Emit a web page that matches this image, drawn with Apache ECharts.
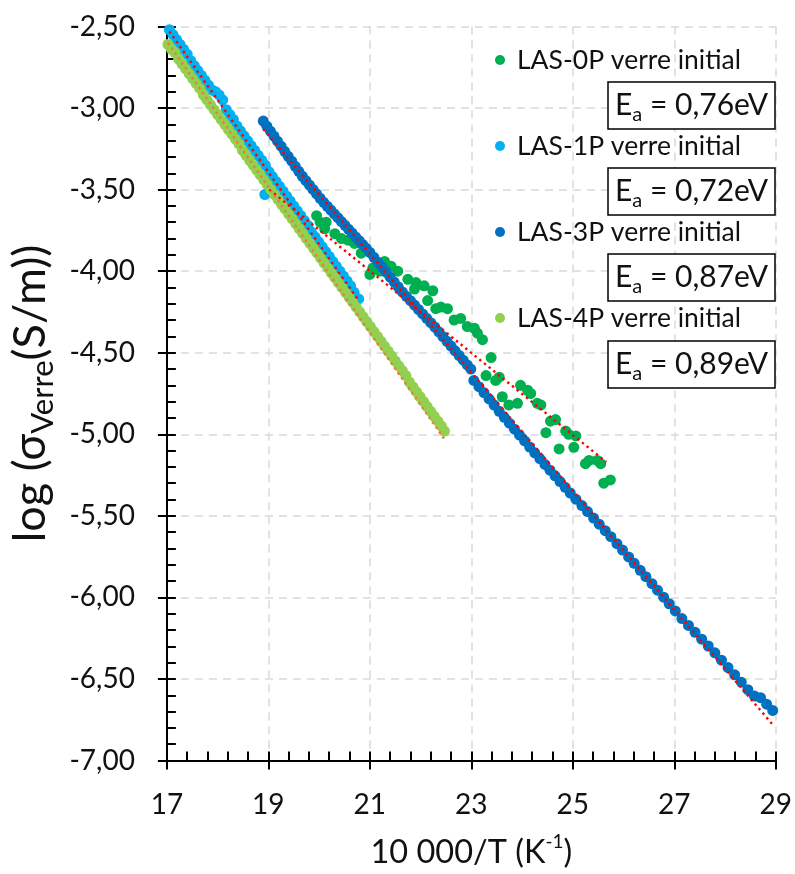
<!DOCTYPE html>
<html><head><meta charset="utf-8">
<script src="https://cdn.jsdelivr.net/npm/echarts@6/dist/echarts.min.js"></script>
<style>html,body{margin:0;padding:0;background:#fff}#c{width:795px;height:874px}</style>
</head><body><div id="c"></div>
<script>
// ---------- DATA ----------
const seriesNames = ['LAS-0P verre initial','LAS-1P verre initial','LAS-3P verre initial','LAS-4P verre initial'];
const activationEnergies = ['0,76','0,72','0,87','0,89'];

const las0pX = [19.02,19.09,19.16,19.23,19.30,19.37,19.44,19.51,19.58,19.65,19.72,19.79,19.86,
  19.95,20.02,20.11,20.14,20.31,20.44,20.57,20.70,20.83,21.00,21.06,21.19,21.29,21.42,21.55,21.75,21.88,21.91,
  22.07,22.14,22.24,22.30,22.40,22.53,22.66,22.79,22.92,23.06,23.12,23.22,23.29,23.39,23.48,23.55,23.61,23.74,
  23.91,23.97,24.11,24.17,24.30,24.37,24.47,24.56,24.66,24.73,24.86,24.92,25.02,25.06,25.25,25.32,25.48,25.55,25.61,25.74];
const las0pY = [-3.46,-3.49,-3.52,-3.54,-3.57,-3.60,-3.63,-3.66,-3.68,-3.71,-3.74,-3.77,-3.80,
  -3.66,-3.70,-3.74,-3.70,-3.77,-3.80,-3.81,-3.83,-3.89,-4.02,-3.98,-4.00,-3.94,-3.97,-4.00,-4.05,-4.11,-4.07,
  -4.09,-4.18,-4.12,-4.23,-4.22,-4.23,-4.30,-4.29,-4.34,-4.35,-4.38,-4.42,-4.64,-4.53,-4.67,-4.65,-4.77,-4.82,
  -4.81,-4.70,-4.73,-4.75,-4.81,-4.82,-4.99,-4.92,-4.91,-5.09,-4.98,-5.00,-5.08,-5.01,-5.18,-5.16,-5.16,-5.18,-5.30,-5.28];

const las1pX = [17.05,17.12,17.19,17.26,17.33,17.40,17.47,17.54,17.61,17.68,17.75,17.82,17.89,17.96,18.03,18.10,
  18.17,18.24,18.31,18.38,18.45,18.52,18.59,18.66,18.73,18.80,18.87,18.93,18.94,19.01,19.08,19.15,19.22,19.29,19.36,
  19.43,19.50,19.57,19.64,19.71,19.78,19.85,19.92,19.99,20.06,20.13,20.20,20.27,20.34,20.41,20.48,20.55,20.62,20.69,20.78];
const las1pY = [-2.52,-2.55,-2.58,-2.61,-2.64,-2.67,-2.71,-2.74,-2.77,-2.80,-2.83,-2.86,-2.89,-2.90,-2.92,-2.95,
  -3.01,-3.04,-3.07,-3.11,-3.14,-3.17,-3.20,-3.23,-3.26,-3.29,-3.32,-3.53,-3.35,-3.39,-3.42,-3.45,-3.48,-3.51,-3.54,
  -3.57,-3.60,-3.63,-3.66,-3.69,-3.72,-3.76,-3.79,-3.82,-3.85,-3.88,-3.91,-3.94,-3.97,-4.00,-4.03,-4.06,-4.09,-4.13,-4.17];

const las3pX = [18.90,18.97,19.04,19.11,19.18,19.25,19.32,19.39,19.46,19.53,19.60,19.67,19.74,19.81,19.88,19.95,20.02,
  20.09,20.16,20.23,20.30,20.37,20.44,20.51,20.58,20.65,20.72,20.79,20.86,20.93,
  21.00,21.08,21.16,21.24,21.32,21.40,21.48,21.56,21.64,21.72,21.80,21.88,21.96,22.04,22.12,22.20,22.28,22.36,22.44,
  22.52,22.60,22.68,22.76,22.84,22.92,22.99,
  23.05,23.15,23.25,23.35,23.45,23.55,23.65,23.75,23.85,23.95,24.05,24.15,24.25,24.35,24.45,24.55,24.65,24.75,24.85,24.95,
  25.06,25.18,25.29,25.41,25.52,25.64,25.75,25.87,25.98,26.10,26.21,26.33,26.44,26.56,26.67,26.79,26.90,
  27.02,27.15,27.28,27.41,27.54,27.67,27.80,27.93,28.06,28.19,28.32,28.45,28.58,28.70,28.82,28.94];
const las3pY = [-3.080,-3.111,-3.142,-3.172,-3.203,-3.234,-3.265,-3.296,-3.326,-3.357,-3.388,-3.418,-3.445,-3.472,-3.499,-3.526,-3.553,
  -3.578,-3.602,-3.625,-3.649,-3.672,-3.696,-3.719,-3.743,-3.766,-3.790,-3.813,-3.837,-3.860,
  -3.885,-3.915,-3.946,-3.976,-4.006,-4.037,-4.067,-4.097,-4.127,-4.154,-4.181,-4.208,-4.235,-4.262,-4.289,-4.316,-4.343,-4.372,-4.401,
  -4.430,-4.459,-4.488,-4.517,-4.546,-4.575,-4.600,
  -4.670,-4.708,-4.745,-4.783,-4.821,-4.859,-4.896,-4.932,-4.969,-5.005,-5.041,-5.078,-5.114,-5.149,-5.185,-5.220,-5.255,-5.290,-5.325,-5.360,
  -5.398,-5.437,-5.474,-5.514,-5.551,-5.591,-5.628,-5.671,-5.710,-5.752,-5.791,-5.834,-5.873,-5.916,-5.956,-5.999,-6.039,
  -6.083,-6.130,-6.172,-6.214,-6.256,-6.298,-6.340,-6.385,-6.430,-6.475,-6.520,-6.566,-6.605,-6.615,-6.655,-6.693];

const las4pX = [17.02,17.09,17.16,17.23,17.30,17.37,17.44,17.51,17.58,17.65,17.72,17.79,17.86,17.93,18.00,18.07,18.14,18.21,
  18.28,18.35,18.42,18.49,18.56,18.63,18.70,18.77,18.84,18.91,18.98,19.05,19.12,19.19,19.26,19.33,19.40,19.47,19.54,19.61,
  19.68,19.75,19.82,19.89,19.96,20.03,20.10,20.17,20.24,20.31,20.38,20.45,20.52,20.59,20.66,20.73,20.80,20.87,20.94,21.01,
  21.08,21.15,21.22,21.29,21.36,21.43,21.50,21.57,21.64,21.71,21.78,21.85,21.92,21.99,22.06,22.13,22.20,22.27,22.34,22.41,22.47];
const las4pY = [-2.61,-2.64,-2.66,-2.70,-2.73,-2.76,-2.79,-2.82,-2.85,-2.88,-2.92,-2.95,-2.98,-3.01,-3.04,-3.07,-3.10,-3.13,
  -3.16,-3.19,-3.22,-3.26,-3.29,-3.32,-3.35,-3.38,-3.41,-3.44,-3.47,-3.50,-3.53,-3.56,-3.59,-3.62,-3.65,-3.68,-3.71,-3.74,
  -3.77,-3.80,-3.83,-3.86,-3.89,-3.92,-3.95,-3.98,-4.01,-4.04,-4.07,-4.10,-4.13,-4.16,-4.19,-4.22,-4.25,-4.28,-4.31,-4.34,
  -4.37,-4.40,-4.43,-4.46,-4.49,-4.52,-4.55,-4.58,-4.61,-4.64,-4.68,-4.71,-4.74,-4.77,-4.80,-4.83,-4.86,-4.89,-4.92,-4.95,-4.98];

// linear trend lines (start / end values)
const trendXStart = [19.02, 17.05, 18.90, 17.02];
const trendXEnd   = [25.66, 20.78, 28.94, 22.47];
const trendYStart = [-3.50, -2.53, -3.13, -2.60];
const trendYEnd   = [-5.17, -4.18, -6.78, -5.03];

const xTickValues = [17, 19, 21, 23, 25, 27, 29];
const yTickValues = [-7.0, -6.5, -6.0, -5.5, -5.0, -4.5, -4.0, -3.5, -3.0, -2.5];

// ---------- STYLE ----------
const FONT = 'Lato';
const colors = ['#00B050', '#00B0F0', '#0070C0', '#92D050'];
const trendColors = ['#FF0000', '#FF0000', '#FF0000', '#F07A3A'];

const xs = [las0pX, las1pX, las3pX, las4pX];
const ys = [las0pY, las1pY, las3pY, las4pY];

const series = [];
seriesNames.forEach((n, i) => {
  series.push({
    name: n, type: 'scatter', xAxisIndex: 0, yAxisIndex: 0,
    data: xs[i].map((x, k) => [x, ys[i][k]]),
    symbol: 'circle', symbolSize: 11,
    itemStyle: { color: colors[i], opacity: 1 },
    z: 2, silent: true
  });
});
seriesNames.forEach((n, i) => {
  series.push({
    name: n + ' (tendance)', type: 'line', xAxisIndex: 0, yAxisIndex: 0,
    data: [[trendXStart[i], trendYStart[i]], [trendXEnd[i], trendYEnd[i]]],
    showSymbol: false, symbol: 'none',
    lineStyle: { color: trendColors[i], width: 2.4, type: [2.4, 3.6] },
    z: 4, silent: true
  });
});

const fmtY = v => v.toFixed(2).replace('.', ',');
const axisBlack = '#000';

const grid = { left: 165, right: 19, top: 26.5, bottom: 113 };

const xAxisMain = {
  type: 'value', min: xTickValues[0], max: xTickValues[xTickValues.length - 1], interval: 2,
  position: 'bottom',
  axisLine: { show: true, onZero: false, lineStyle: { color: axisBlack, width: 2 } },
  axisTick: { show: true, inside: false, length: 9, lineStyle: { color: axisBlack, width: 2 } },
  minorTick: { show: false },
  axisLabel: { show: true, margin: 30, color: '#111', fontFamily: FONT, fontSize: 28,
    formatter: v => String(v) },
  splitLine: { show: true, lineStyle: { color: '#D9D9D9', width: 1.5, type: [8, 6] } },
  name: '{t|10 000/T (K}{s|-1}{t|)}',
  nameLocation: 'middle', nameGap: 72,
  nameTextStyle: { rich: {
    t: { fontFamily: FONT, fontSize: 32.5, color: '#111', lineHeight: 40, verticalAlign: 'middle' },
    s: { fontFamily: FONT, fontSize: 19, color: '#111', lineHeight: 30, verticalAlign: 'top' }
  } }
};
const xAxisInner = {
  type: 'value', min: xTickValues[0], max: xTickValues[xTickValues.length - 1], interval: 2,
  position: 'bottom',
  axisLine: { show: false, onZero: false },
  axisTick: { show: true, inside: true, length: 9, lineStyle: { color: axisBlack, width: 2 } },
  minorTick: { show: true, splitNumber: 5, length: 9, lineStyle: { color: axisBlack, width: 2 } },
  axisLabel: { show: false }, splitLine: { show: false }
};
const yAxisMain = {
  type: 'value', min: yTickValues[0], max: yTickValues[yTickValues.length - 1], interval: 0.5,
  position: 'left',
  axisLine: { show: true, onZero: false, lineStyle: { color: axisBlack, width: 2 } },
  axisTick: { show: true, inside: false, length: 9, lineStyle: { color: axisBlack, width: 2 } },
  minorTick: { show: false },
  axisLabel: { show: true, margin: 32, color: '#111', fontFamily: FONT, fontSize: 28, formatter: fmtY },
  splitLine: { show: true, lineStyle: { color: '#D9D9D9', width: 1.5, type: [8, 6] } },
  name: '{t|log (σ}{s|Verre}{t|(S/m))}',
  nameLocation: 'middle', nameGap: 94,
  nameTextStyle: { rich: {
    t: { fontFamily: FONT, fontSize: 45, color: '#111', lineHeight: 56, verticalAlign: 'middle' },
    s: { fontFamily: FONT, fontSize: 31, color: '#111', lineHeight: 22, verticalAlign: 'bottom' }
  } }
};
const yAxisInner = {
  type: 'value', min: yTickValues[0], max: yTickValues[yTickValues.length - 1], interval: 0.5,
  position: 'left',
  axisLine: { show: false, onZero: false },
  axisTick: { show: true, inside: true, length: 9, lineStyle: { color: axisBlack, width: 2 } },
  minorTick: { show: true, splitNumber: 5, length: 9, lineStyle: { color: axisBlack, width: 2 } },
  axisLabel: { show: false }, splitLine: { show: false }
};

// Ea boxes
const boxTops = [82, 168, 254, 341];
const graphics = [];
activationEnergies.forEach((e, i) => {
  graphics.push({
    type: 'rect', silent: true, z: 10,
    shape: { x: 608, y: boxTops[i], width: 167, height: 47 },
    style: { fill: '#fff', stroke: '#000', lineWidth: 1.5 }
  });
  graphics.push({
    type: 'text', silent: true, z: 11,
    x: 691.5, y: boxTops[i] + 23.5,
    style: {
      text: '{e|E}{a|a}{e| = ' + e + 'eV}',
      align: 'center', verticalAlign: 'middle',
      rich: {
        e: { fontFamily: FONT, fontSize: 30, fill: '#111', lineHeight: 38, verticalAlign: 'middle' },
        a: { fontFamily: FONT, fontSize: 20, fill: '#111', lineHeight: 16, verticalAlign: 'bottom' }
      }
    }
  });
});

const chart = echarts.init(document.getElementById('c'), null, { renderer: 'canvas' });
chart.setOption({
  animation: false,
  backgroundColor: '#fff',
  grid: grid,
  xAxis: [xAxisMain, xAxisInner],
  yAxis: [yAxisMain, yAxisInner],
  legend: {
    data: seriesNames, orient: 'vertical', left: 495, top: 45, padding: 0,
    itemWidth: 10, itemHeight: 10, itemGap: 56, icon: 'circle',
    textStyle: { fontFamily: FONT, fontSize: 26.5, color: '#111', lineHeight: 30, padding: [0, 0, 0, 7] },
    selectedMode: false
  },
  graphic: graphics,
  series: series
});
</script></body></html>
